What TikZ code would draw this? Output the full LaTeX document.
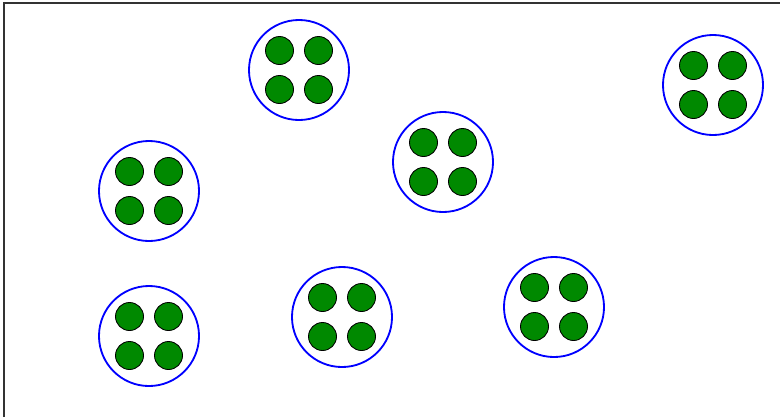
\documentclass[tikz,border=0pt]{standalone}
\definecolor{dotgreen}{RGB}{0,137,0}

\begin{document}
\begin{tikzpicture}[x=0.025cm, y=-0.025cm,
  cell/.style={circle, draw=blue, line width=1.3pt, minimum size=2.5cm, inner sep=0pt},
  dot/.style={circle, draw=black, fill=dotgreen, line width=0.6pt, minimum size=0.7cm, inner sep=0pt}]
  \useasboundingbox (0,0) rectangle (780,417);
  \draw[line width=0.8pt, black!80] (4,417) -- (4,3) -- (780,3);
  \foreach \n/\x/\y in {1/299/70, 2/713/85, 3/443/162, 4/149/191, 5/149/336, 6/342/317, 7/554/307} {
    \node[cell] (cell\n) at (\x,\y) {};
    \node[dot] (dot\n a) at (\x-19.5,\y-19.5) {};
    \node[dot] (dot\n b) at (\x+19.5,\y-19.5) {};
    \node[dot] (dot\n c) at (\x-19.5,\y+19.5) {};
    \node[dot] (dot\n d) at (\x+19.5,\y+19.5) {};
  }
\end{tikzpicture}
\end{document}
